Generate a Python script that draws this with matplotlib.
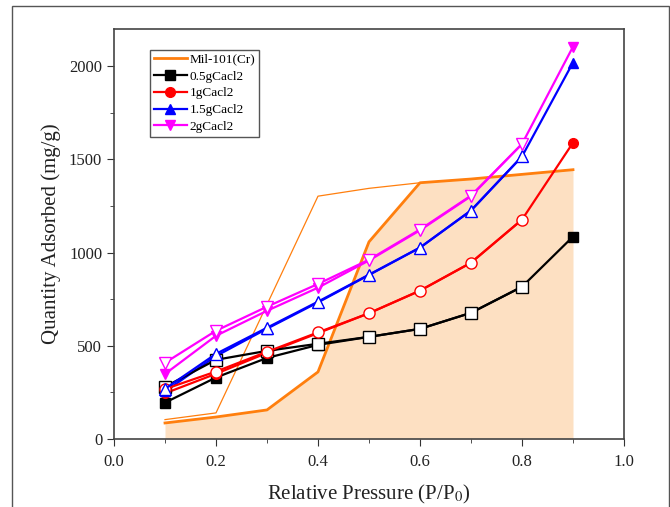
import matplotlib.pyplot as plt
import matplotlib.patches as patches

# ======= DATA =======
p = [0.1, 0.2, 0.3, 0.4, 0.5, 0.6, 0.7, 0.8, 0.9]

mil_ads = [86, 118, 156, 360, 1058, 1375, 1395, 1420, 1445]
# desorption branch of Mil-101(Cr) (thin line), no point at 0.3
p_mil_des = [0.1, 0.2, 0.4, 0.5, 0.6, 0.7, 0.8, 0.9]
mil_des = [104, 140, 1303, 1345, 1375, 1395, 1420, 1445]

g05_ads = [195, 330, 435, 505, 548, 591, 677, 817, 1086]
g05_des = [280, 425, 473, 511, 548, 591, 677, 817]

g1_ads = [245, 350, 462, 568, 675, 796, 946, 1177, 1590]
g1_des = [268, 362, 468, 572, 675, 796, 946, 1177]

g15_ads = [255, 445, 592, 733, 880, 1027, 1226, 1516, 2020]
g15_des = [269, 457, 597, 737, 882, 1027, 1226, 1516]

g2_ads = [349, 554, 688, 812, 958, 1120, 1303, 1583, 2105]
g2_des = [409, 581, 710, 832, 962, 1124, 1306, 1583]

plt.rcParams['font.family'] = ['Liberation Serif', 'DejaVu Serif']
plt.rcParams['mathtext.fontset'] = 'stix'

fig = plt.figure(figsize=(6.7, 5.07), dpi=100)
ax = fig.add_axes([114 / 670, 1 - 439 / 507, 510 / 670, 410 / 507])

# outer frame of the picture
fig.patches.append(patches.Rectangle((12 / 670, -0.05), 657 / 670, 1.05 - 6 / 507,
                                     transform=fig.transFigure, fill=False,
                                     edgecolor='#555555', linewidth=1.0))

orange = '#ff7f0e'
# ======= MIL-101(Cr) =======
ax.fill_between(p, 0, mil_ads, color='#fde0c2', linewidth=0, zorder=1)
ax.plot(p_mil_des, mil_des, color=orange, linewidth=0.9, zorder=2)
ax.plot(p, mil_ads, color=orange, linewidth=2.0, label='Mil-101(Cr)', zorder=3)

# ======= CaCl2 SAMPLES =======
series = [
    (g05_ads, g05_des, 'black', 's', '0.5gCacl2'),
    (g1_ads, g1_des, 'red', 'o', '1gCacl2'),
    (g15_ads, g15_des, 'blue', '^', '1.5gCacl2'),
    (g2_ads, g2_des, '#ff00ff', 'v', '2gCacl2'),
]
for ads, des, c, m, lab in series:
    ax.plot(p, ads, color=c, marker=m, markersize=7, linewidth=1.6,
            label=lab, zorder=4)
    ax.plot(p[:len(des)], des, color=c, marker=m, markersize=8,
            markerfacecolor='white', linewidth=1.6, zorder=5)

# ======= AXES =======
ax.set_xlim(0, 1.0)
ax.set_ylim(0, 2200)
ax.set_xticks([0.0, 0.2, 0.4, 0.6, 0.8, 1.0])
ax.set_xticks([0.1, 0.3, 0.5, 0.7, 0.9], minor=True)
ax.set_yticks([0, 500, 1000, 1500, 2000])
ax.set_yticks([250, 750, 1250, 1750], minor=True)
ax.tick_params(axis='both', which='major', direction='out', length=5,
               labelsize=12, colors='#333333', labelcolor='#222222')
ax.tick_params(axis='x', which='major', pad=6)
ax.tick_params(axis='both', which='minor', direction='out', length=3, colors='#333333')
for s in ax.spines.values():
    s.set_color('#444444')
    s.set_linewidth(1.2)

ax.set_xlabel('Relative Pressure (P/P$_0$)', fontsize=15, color='#222222', labelpad=9)
ax.set_ylabel('Quantity Adsorbed (mg/g)', fontsize=15, color='#222222', labelpad=6)

leg = ax.legend(loc='upper left', bbox_to_anchor=(0.07, 0.95), borderaxespad=0,
                fontsize=9.5, fancybox=False, edgecolor='#555555', framealpha=1,
                handlelength=2.5, handletextpad=0.2, labelspacing=0.35,
                borderpad=0.3)
leg.get_frame().set_linewidth(1.0)

plt.savefig('out.png', dpi=100)
